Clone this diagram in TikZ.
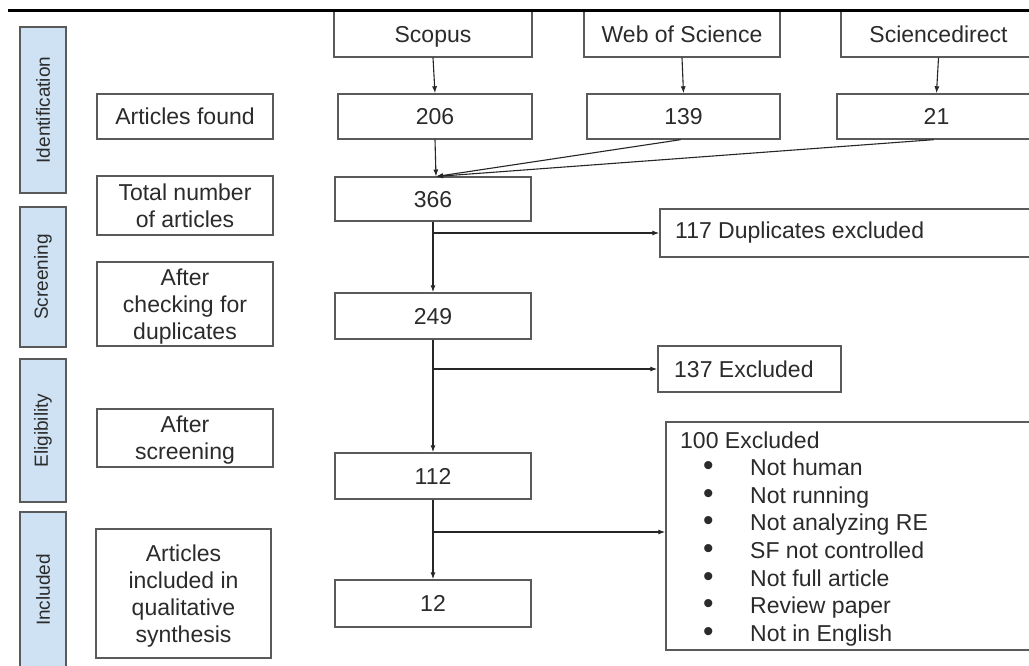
\documentclass[tikz,border=0pt]{standalone}
\usepackage{fontspec}
\setmainfont{Liberation Sans}
\usetikzlibrary{arrows.meta}
\definecolor{sidefill}{HTML}{CFE2F3}
\definecolor{boxline}{HTML}{5A5A5A}
\definecolor{txt}{HTML}{2B2B2B}
\begin{document}
\begin{tikzpicture}[x=1pt,y=-1pt,
  every node/.style={font=\fontsize{23}{27}\selectfont, text=txt},
  box/.style={draw=boxline, line width=1.4pt, inner sep=0pt, align=center, text depth=0pt},
  side/.style={draw=boxline, fill=sidefill, line width=1.4pt, inner sep=0pt, rotate=90,
     font=\fontsize{19}{22}\selectfont, minimum height=46pt},
  arr/.style={-{Latex[length=7pt,width=5pt]}, line width=1.1pt, draw=black!85},
  exline/.style={anchor=base west, inner sep=0pt},
]
\useasboundingbox (0,0) rectangle (1029,666);
\fill[white] (0,0) rectangle (1029,666);

% side phase labels
\node[side, minimum width=166pt] (sid) at (43,110) {Identification};
\node[side, minimum width=140pt] (sscr) at (43,277) {Screening};
\node[side, minimum width=143pt] (sel) at (43,430.5) {Eligibility};
\node[side, minimum width=156pt] (sinc) at (43,590) {Included};

% left description boxes
\node[box, minimum width=176pt, minimum height=45pt] (lfound) at (185,116.5) {Articles found};
\node[box, minimum width=176pt, minimum height=59pt] (ltotal) at (185,205.5) {Total number\\of articles};
\node[box, minimum width=176pt, minimum height=84pt] (lcheck) at (185,304) {After\\checking for\\duplicates};
\node[box, minimum width=176pt, minimum height=58pt] (lscreen) at (185,438) {After\\screening};
\node[box, minimum width=175pt, minimum height=129pt] (lincl) at (183.5,593.5) {Articles\\included in\\qualitative\\synthesis};

% sources
\node[box, minimum width=198pt, minimum height=46pt] (scopus) at (433,34) {Scopus};
\node[box, minimum width=196pt, minimum height=46pt] (wos) at (682,34) {Web of Science};
\node[box, minimum width=195pt, minimum height=46pt] (sd) at (938.5,34) {Sciencedirect};

\node[box, minimum width=194pt, minimum height=45pt] (n206) at (435,116.5) {206};
\node[box, minimum width=193pt, minimum height=45pt] (n139) at (683.5,116.5) {139};
\node[box, minimum width=199pt, minimum height=45pt] (n21) at (936.5,116.5) {21};

% main column
\node[box, minimum width=196pt, minimum height=44pt] (n366) at (433,199) {366};
\node[box, minimum width=196pt, minimum height=46pt] (n249) at (433,316) {249};
\node[box, minimum width=196pt, minimum height=46pt] (n112) at (433,476) {112};
\node[box, minimum width=196pt, minimum height=47pt] (n12) at (433,603.5) {12};

% exclusion boxes
\node[box, minimum width=380pt, minimum height=48pt] (dup) at (850,233) {};
\node[anchor=west, inner sep=0pt] (duptxt) at (675,233) {117 Duplicates excluded};
\node[box, minimum width=183pt, minimum height=46pt] (ex137) at (749.5,369) {};
\node[anchor=west, inner sep=0pt] (ex137txt) at (674,369) {137 Excluded};
\node[box, minimum width=374pt, minimum height=228pt] (ex100) at (853,536) {};
\node[exline] (ex0) at (680,448) {100 Excluded};
\foreach \t [count=\i] in {Not human, Not running, Not analyzing RE, SF not controlled, Not full article, Review paper, Not in English}{
  \node[exline] (ex\i) at (680,448+27.6*\i) {\makebox[70pt][l]{\hspace{23pt}\scalebox{1.3}{•}}\t};
}

% connectors
\coordinate (merge) at (436,176.5);
\coordinate (ex100in) at ([yshift=4pt]ex100.west);
\draw[arr] (scopus.south) -- (n206.north);
\draw[arr] (wos.south) -- (n139.north);
\draw[arr] (sd.south) -- (n21.north);
\draw[arr] (n206.south) -- (merge);
\draw[arr] ([xshift=-3pt]n139.south) -- (merge);
\draw[arr] ([xshift=-3pt]n21.south) -- (merge);
\draw[arr] (n366.south) -- (n249.north);
\draw[arr] (n249.south) -- (n112.north);
\draw[arr] (n112.south) -- (n12.north);
\draw[arr] (n366.south |- dup.west) -- (dup.west);
\draw[arr] (n249.south |- ex137.west) -- (ex137.west);
\draw[arr] (n112.south |- ex100in) -- (ex100in);

% top rule
\draw[line width=3pt, black] (8,10.5) -- (1040,10.5);
\end{tikzpicture}
\end{document}
